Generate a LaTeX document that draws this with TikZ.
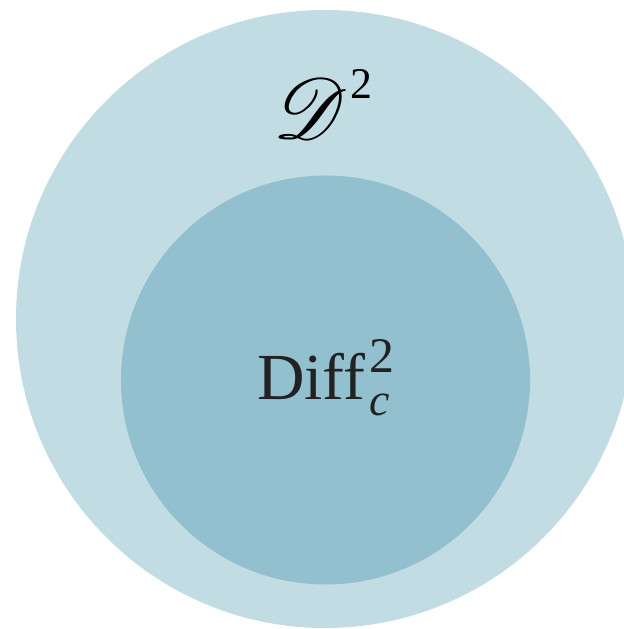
\documentclass[tikz,border=0pt]{standalone}
\usepackage{amsmath}
\usepackage{mathrsfs}
\DeclareFontFamily{U}{rsfs}{\skewchar\font127 }
\DeclareFontShape{U}{rsfs}{m}{n}{<-6>rsfs5 <6-8>rsfs7 <8->rsfs10}{}
\usepackage{fontspec}
\setmainfont{Liberation Serif}
\usepackage{tikz}
\usetikzlibrary{positioning}
\definecolor{OuterFill}{HTML}{C2DCE3}
\definecolor{InnerFill}{HTML}{93C0CF}
\definecolor{Ink}{HTML}{222222}
% raised / lowered script parts, set by hand
\newcommand{\supsc}[3]{\raisebox{#1}{\fontsize{#2}{#2}\selectfont #3}}

\begin{document}
\begin{tikzpicture}[
  x=1bp, y=1bp,
  disk/.style={circle, draw=none, inner sep=0pt},
  setlabel/.style={anchor=base west, inner sep=0pt}
]
\clip (0,0) rectangle (624,629);
\node[disk, fill=OuterFill, minimum size=618bp] (dtwo) at (325,310) {};
\node[disk, fill=InnerFill, minimum size=409bp] (diffc) at (325.5,249) {};

\node[setlabel, text=black, font=\fontsize{86}{90}\selectfont] (dtwolabel) at (273,490)
  {$\mathscr{D}$\kern3bp\supsc{40bp}{44}{2}};
\node[setlabel, text=Ink, font=\fontsize{66}{72}\selectfont] (diffclabel) at (257,229)
  {Diff\kern4bp\rlap{\supsc{27bp}{50}{2}}\supsc{-16bp}{46}{\itshape c}};
\end{tikzpicture}
\end{document}
